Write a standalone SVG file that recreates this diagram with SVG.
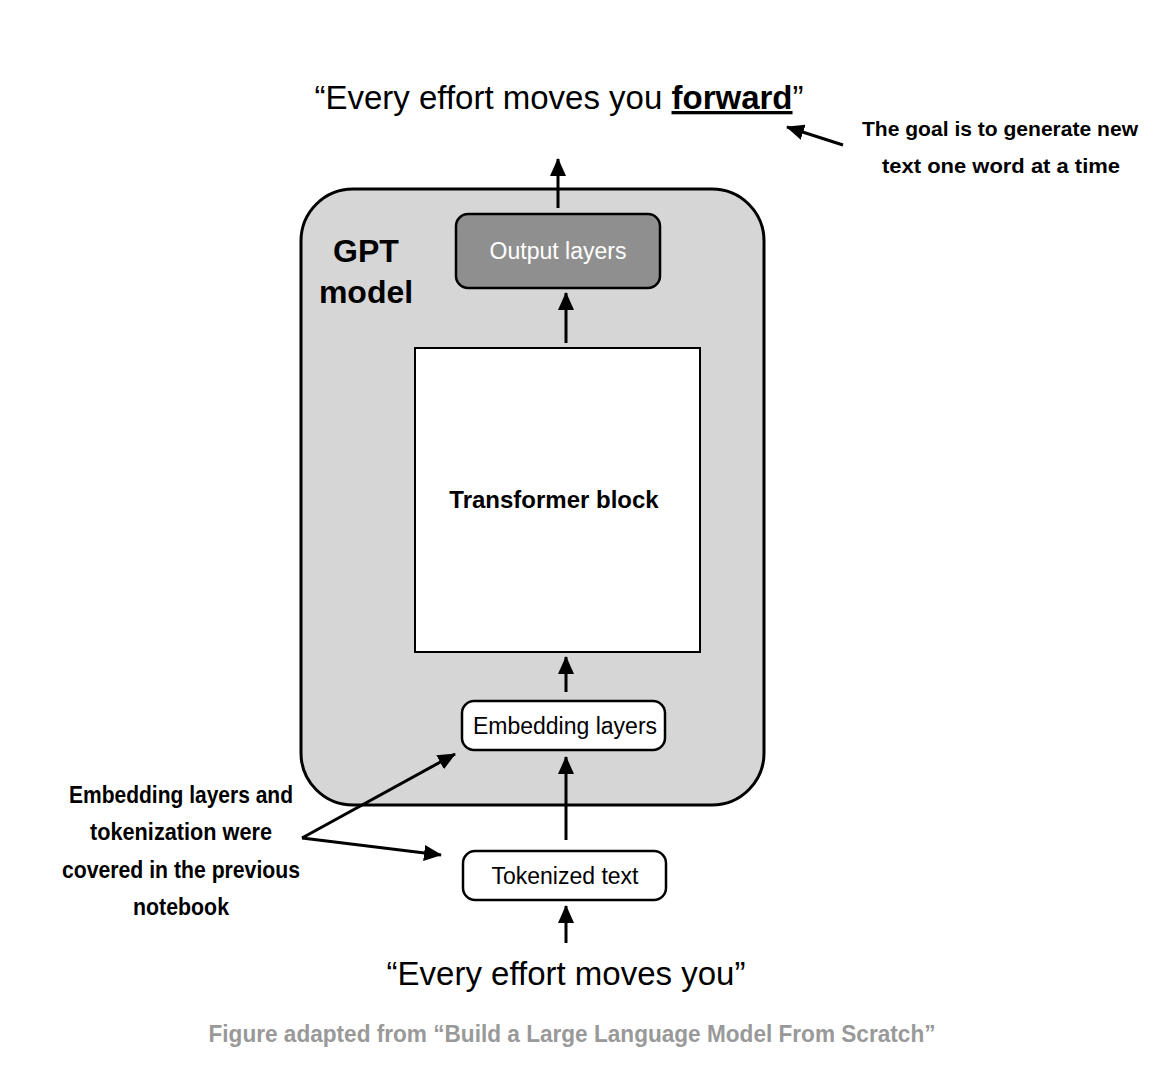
<svg xmlns="http://www.w3.org/2000/svg" width="1166" height="1088" viewBox="0 0 1166 1088">
<defs>
<marker id="ah" markerWidth="18" markerHeight="16" refX="17" refY="8" orient="auto" markerUnits="userSpaceOnUse" viewBox="0 0 18 16">
<path d="M0,0 L18,8 L0,16 z" fill="#000"/>
</marker>
<style>
.sans{font-family:"Liberation Sans",Arial,sans-serif}
.note{font-family:"Liberation Sans Narrow","Liberation Sans",Arial,sans-serif;font-weight:bold;font-size:24px;fill:#000}
.note.sm{font-size:21px}
.box{stroke:#000;stroke-width:2.5}
.conn line{stroke:#000;stroke-width:3;fill:none}
</style>
</defs>
<rect width="1166" height="1088" fill="#fff"/>

<g id="gpt-model">
<rect x="301" y="189" width="463" height="616" rx="52" fill="#d6d6d6" stroke="#000" stroke-width="3"/>
<text class="sans" x="366" y="262" font-size="32" font-weight="bold" text-anchor="middle">GPT</text>
<text class="sans" x="366" y="303" font-size="32" font-weight="bold" text-anchor="middle">model</text>
</g>

<g id="output-layers">
<rect class="box" x="456" y="214" width="204" height="74" rx="12" fill="#8f8f8f"/>
<text class="sans" x="558" y="259" font-size="23" fill="#fff" text-anchor="middle">Output layers</text>
</g>

<g id="transformer-block">
<rect x="415" y="348" width="285" height="304" fill="#fff" stroke="#000" stroke-width="2"/>
<text class="sans" x="554" y="508" font-size="24" font-weight="bold" text-anchor="middle">Transformer block</text>
</g>

<g id="embedding-layers">
<rect class="box" x="462" y="701" width="203" height="49" rx="12" fill="#fff"/>
<text class="sans" x="565" y="734" font-size="23" text-anchor="middle">Embedding layers</text>
</g>

<g id="tokenized-text">
<rect class="box" x="463" y="851" width="203" height="49" rx="12" fill="#fff"/>
<text class="sans" x="565" y="884" font-size="23" text-anchor="middle">Tokenized text</text>
</g>

<g id="output-text">
<text class="sans" x="559" y="109" font-size="33" text-anchor="middle">“Every effort moves you <tspan font-weight="bold" text-decoration="underline">forward</tspan>”</text>
</g>

<g id="input-text">
<text class="sans" x="566" y="985" font-size="33" text-anchor="middle">“Every effort moves you”</text>
</g>

<g id="goal-note">
<text class="note sm" x="1000" y="136" text-anchor="middle" textLength="276" lengthAdjust="spacingAndGlyphs">The goal is to generate new</text>
<text class="note sm" x="1001" y="173" text-anchor="middle" textLength="238" lengthAdjust="spacingAndGlyphs">text one word at a time</text>
</g>

<g id="embedding-note">
<text class="note" x="181" y="803" text-anchor="middle" textLength="224" lengthAdjust="spacingAndGlyphs">Embedding layers and</text>
<text class="note" x="181" y="840" text-anchor="middle" textLength="182" lengthAdjust="spacingAndGlyphs">tokenization were</text>
<text class="note" x="181" y="878" text-anchor="middle" textLength="238" lengthAdjust="spacingAndGlyphs">covered in the previous</text>
<text class="note" x="181" y="915" text-anchor="middle" textLength="96" lengthAdjust="spacingAndGlyphs">notebook</text>
</g>

<g id="caption">
<text x="572" y="1042" font-family="Liberation Sans Narrow,Liberation Sans,Arial,sans-serif" font-weight="bold" font-size="24" fill="#999" text-anchor="middle" textLength="727" lengthAdjust="spacingAndGlyphs">Figure adapted from “Build a Large Language Model From Scratch”</text>
</g>

<g id="connectors" class="conn">
<line x1="566" y1="943" x2="566" y2="906" marker-end="url(#ah)"/>
<line x1="566" y1="840" x2="566" y2="757" marker-end="url(#ah)"/>
<line x1="566" y1="692" x2="566" y2="657" marker-end="url(#ah)"/>
<line x1="566" y1="343" x2="566" y2="293" marker-end="url(#ah)"/>
<line x1="558" y1="208" x2="558" y2="159" marker-end="url(#ah)"/>
<line x1="843" y1="145" x2="787" y2="127" marker-end="url(#ah)"/>
<line x1="302" y1="838" x2="455" y2="754" marker-end="url(#ah)"/>
<line x1="302" y1="838" x2="441" y2="855" marker-end="url(#ah)"/>
</g>
</svg>
